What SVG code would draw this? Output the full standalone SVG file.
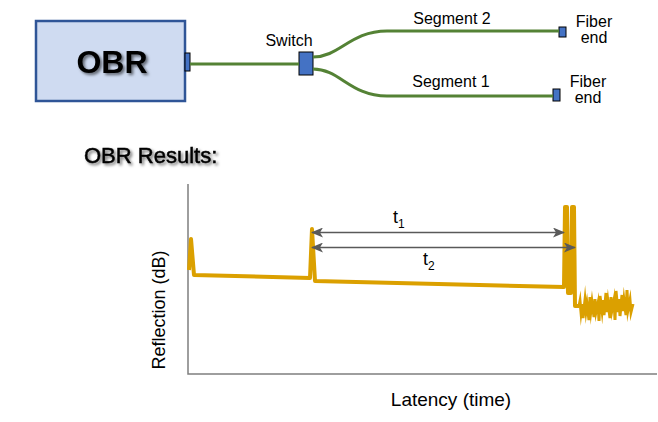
<svg xmlns="http://www.w3.org/2000/svg" width="658" height="422" viewBox="0 0 658 422">
<style>
text{font-family:"Liberation Sans",Arial,sans-serif;fill:#000}
.lbl{font-size:16px}
.port{fill:#4472C4;stroke:#000;stroke-width:1}
.fiber{fill:none;stroke:#548235;stroke-width:3}
.axis{stroke:#7F7F7F;stroke-width:1.5;fill:none}
.dim{stroke:#595959;stroke-width:1.5;fill:none;marker-start:url(#ah);marker-end:url(#ah)}
.trace{fill:none;stroke:#DBA000;stroke-width:4;stroke-linejoin:round}
.noise{fill:none;stroke:#DBA000;stroke-width:3;stroke-linejoin:miter;stroke-miterlimit:10}
</style>
<defs>
<filter id="sh" x="-10%" y="-20%" width="130%" height="150%">
<feDropShadow dx="2" dy="2" stdDeviation="1.5" flood-color="#000" flood-opacity="0.55"/>
</filter>
<marker id="ah" viewBox="0 0 12 10" refX="11" refY="5" markerWidth="12" markerHeight="10" markerUnits="userSpaceOnUse" orient="auto-start-reverse">
<path d="M0,0 L12,5 L0,10 L3,5 Z" fill="#595959"/>
</marker>
</defs>
<rect width="658" height="422" fill="#fff"/>

<g id="obr">
<rect x="36" y="21" width="149" height="80" fill="#CFDBF1" stroke="#2F5597" stroke-width="2.5"/>
<text x="112" y="73" text-anchor="middle" font-size="32" font-weight="bold" filter="url(#sh)">OBR</text>
<rect class="port" x="185" y="53" width="5" height="18"/>
</g>

<g id="switch">
<rect class="port" x="299" y="52" width="14" height="23"/>
<text class="lbl" x="289" y="46" text-anchor="middle">Switch</text>
</g>

<g id="fiber-end-2">
<rect class="port" x="559" y="27" width="7" height="10"/>
<text class="lbl" x="594" y="27" text-anchor="middle">Fiber</text>
<text class="lbl" x="594" y="43" text-anchor="middle">end</text>
</g>

<g id="fiber-end-1">
<rect class="port" x="553" y="89" width="7" height="12"/>
<text class="lbl" x="588" y="87" text-anchor="middle">Fiber</text>
<text class="lbl" x="588" y="103" text-anchor="middle">end</text>
</g>

<g id="connectors">
<line class="fiber" x1="190" y1="64" x2="299" y2="64"/>
<path class="fiber" d="M313,57 C340,57 350,31 387,31 L559,31"/>
<path class="fiber" d="M313,69 C340,69 350,96 387,96 L553,96"/>
<text class="lbl" x="452" y="24" text-anchor="middle">Segment 2</text>
<text class="lbl" x="451" y="87" text-anchor="middle">Segment 1</text>
</g>

<g id="results">
<text x="84" y="163" font-size="22" stroke="#000" stroke-width="0.5" filter="url(#sh)">OBR Results:</text>
<polyline class="axis" points="188,184 188,374 657,374"/>
<text x="165" y="310" font-size="18" text-anchor="middle" transform="rotate(-90 165 310)">Reflection (dB)</text>
<text x="451" y="406" font-size="19" text-anchor="middle">Latency (time)</text>
<path class="trace" d="M189,270 L191,239 L194,275 L310,278 L312,229 L315,281 L564,287 L565,207 L567,207 L568,293 L571,293 L572,207 L574,207 L575,306 L579,306"/>
<path class="noise" d="M577,306 L579,306 L580,301 L581,312 L582,304 L583,318 L585,300 L586,311 L587,304 L589,320 L590,297 L591,310 L592,302 L594,317 L595,299 L596,312 L598,303 L599,321 L600,296 L602,311 L603,300 L604,315 L606,293 L607,312 L608,302 L610,318 L611,297 L612,310 L614,300 L615,320 L616,291 L618,312 L619,299 L620,316 L622,295 L623,311 L624,300 L626,315 L627,290 L628,310 L630,300 L631,312 L633,304"/>
<line class="dim" x1="312" y1="232.5" x2="564" y2="232.5"/>
<line class="dim" x1="312" y1="247.5" x2="575" y2="247.5"/>
<text x="393" y="223" font-size="18">t<tspan font-size="12" dy="5">1</tspan></text>
<text x="423" y="265" font-size="18">t<tspan font-size="12" dy="5">2</tspan></text>
</g>
</svg>
